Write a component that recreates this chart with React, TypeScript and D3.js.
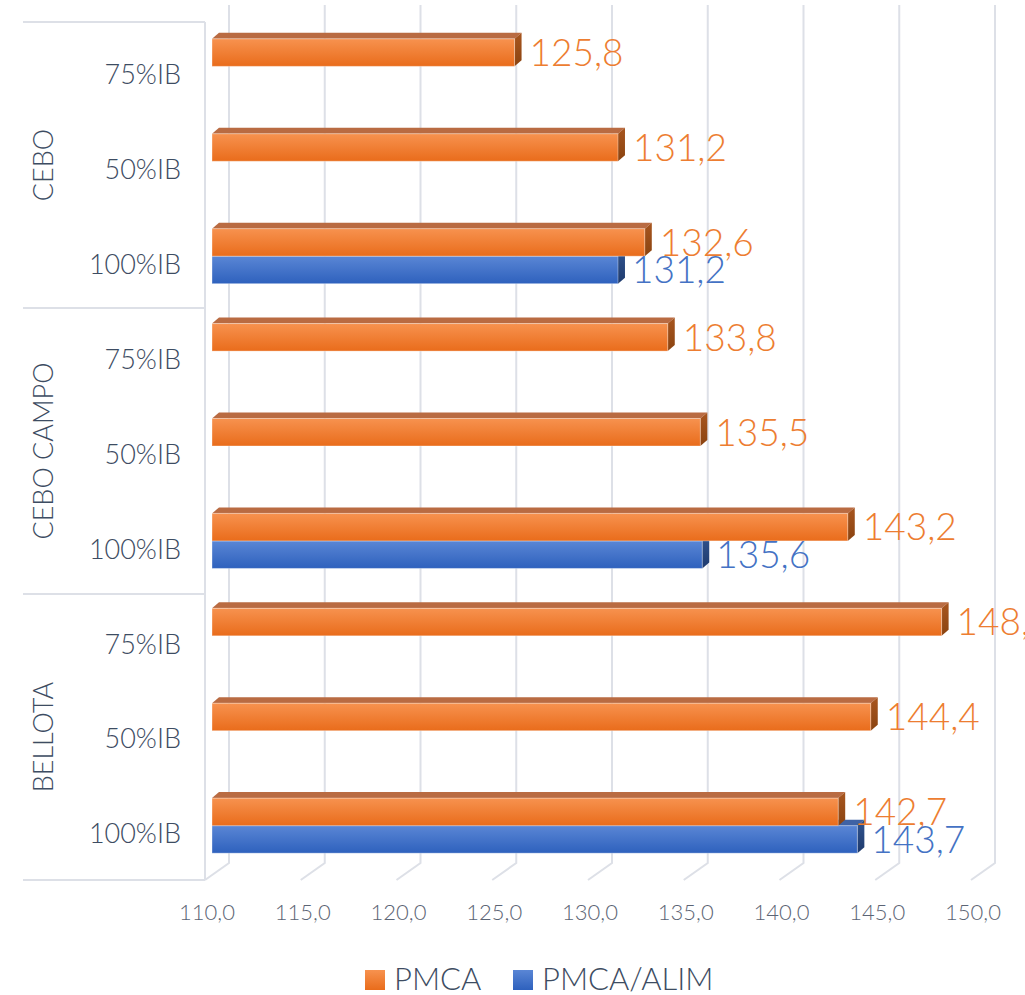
import React from "react";
import * as d3 from "d3";

const groups = ["CEBO", "CEBO CAMPO", "BELLOTA"];
const levels = ["75%IB", "50%IB", "100%IB"];
const pmca = [125.8, 131.2, 132.6, 133.8, 135.5, 143.2, 148.1, 144.4, 142.7];
const pmcaAlim = [null, null, 131.2, null, null, 135.6, null, null, 143.7];
const xTicks = [110, 115, 120, 125, 130, 135, 140, 145, 150];
const seriesNames = ["PMCA", "PMCA/ALIM"];

const FONT = "Lato, 'Open Sans', sans-serif";

const App = () => {
	const width = 1025;
	const height = 995;
	const floorY = 880;
	const topY = 22;
	const x0 = 205; // front edge of floor
	const depth = { dx: 24, dy: -17 };
	const barDepth = { dx: 7, dy: -5 };
	const sideDepth = { dx: 7, dy: -6 };

	const rows = [];
	groups.forEach((g, gi) => levels.forEach((l, li) => rows.push({ key: `${g}-${l}`, group: g, level: l, i: gi * 3 + li })));

	const xScale = d3.scaleLinear().domain([110, 150]).range([0, 766]);
	const yScale = d3.scaleBand()
		.domain(rows.map(r => r.key))
		.range([topY, floorY])
		.paddingInner(0.42)
		.paddingOuter(0.23);
	const sub = d3.scaleBand().domain(seriesNames).range([0, yScale.bandwidth()]);
	const groupScale = d3.scaleBand().domain(groups).range([topY, floorY]);

	const gridColor = "#DDE0E7";
	const textColor = "#3D4C62";
	const fmt = v => d3.format(".1f")(v).replace(".", ",");

	const bar = (v, key, s, colors) => {
		const bx = x0 + barDepth.dx;
		const by = yScale(key) + barDepth.dy + sub(s);
		const h = sub.bandwidth();
		const w = xScale(v);
		const xe = bx + w;
		const top = `M${bx},${by} L${bx + sideDepth.dx},${by + sideDepth.dy} L${xe + sideDepth.dx},${by + sideDepth.dy} L${xe},${by} Z`;
		const side = `M${xe},${by} L${xe + sideDepth.dx},${by + sideDepth.dy} L${xe + sideDepth.dx},${by + h + sideDepth.dy} L${xe},${by + h} Z`;
		return (
			<g key={key + s}>
				<path d={top} fill={colors.top} />
				<path d={side} fill={`url(#${colors.side})`} />
				<rect x={bx} y={by} width={w} height={h} fill={`url(#${colors.front})`} stroke="rgba(255,255,255,0.35)" strokeWidth={1} />
			</g>
		);
	};

	const orange = { top: "#B96B42", side: "gOs", front: "gOf" };
	const blue = { top: "#3F62A4", side: "gBs", front: "gBf" };

	return (
		<svg width={width} height={height} style={{ position: "absolute", left: 0, top: 0, background: "#fff" }} fontFamily={FONT}>
			<defs>
				<linearGradient id="gOf" x1="0" y1="0" x2="0" y2="1">
					<stop offset="0" stopColor="#F7924F" />
					<stop offset="1" stopColor="#E96C1B" />
				</linearGradient>
				<linearGradient id="gOs" x1="0" y1="0" x2="0" y2="1">
					<stop offset="0" stopColor="#A8561F" />
					<stop offset="1" stopColor="#8A4310" />
				</linearGradient>
				<linearGradient id="gBf" x1="0" y1="0" x2="0" y2="1">
					<stop offset="0" stopColor="#5A86D5" />
					<stop offset="1" stopColor="#2E61BD" />
				</linearGradient>
				<linearGradient id="gBs" x1="0" y1="0" x2="0" y2="1">
					<stop offset="0" stopColor="#31548F" />
					<stop offset="1" stopColor="#1E3A6D" />
				</linearGradient>
			</defs>

			{/* gridlines: back wall + floor */}
			{xTicks.map(t => {
				const xf = x0 + xScale(t);
				const xb = xf + depth.dx;
				return (
					<path key={t} d={`M${xb},${topY + depth.dy} L${xb},${floorY + depth.dy} L${xf},${floorY}`}
						fill="none" stroke={gridColor} strokeWidth={2} />
				);
			})}

			{/* left wall edge and category separators */}
			<line x1={x0} x2={x0} y1={topY} y2={floorY} stroke={gridColor} strokeWidth={2} />
			{[topY, ...groups.map(g => groupScale(g) + groupScale.bandwidth())].map((y, i) => (
				<line key={i} x1={23} x2={x0} y1={y} y2={y} stroke={gridColor} strokeWidth={2} />
			))}

			{/* bars */}
			{rows.map(r => (
				<g key={r.key}>
					{pmcaAlim[r.i] != null && bar(pmcaAlim[r.i], r.key, "PMCA/ALIM", blue)}
					{bar(pmca[r.i], r.key, "PMCA", orange)}
				</g>
			))}

			{/* value labels */}
			{rows.map(r => {
				const by = yScale(r.key) + barDepth.dy;
				const out = [
					<text key="o" x={x0 + barDepth.dx + xScale(pmca[r.i]) + 15} y={by + sub("PMCA") + sub.bandwidth() / 2}
						dy="0.36em" fontSize={37} fill="#ED7D31" fontWeight={300}>{fmt(pmca[r.i])}</text>
				];
				if (pmcaAlim[r.i] != null) {
					out.push(
						<text key="b" x={x0 + barDepth.dx + xScale(pmcaAlim[r.i]) + 14} y={by + sub("PMCA/ALIM") + sub.bandwidth() / 2}
							dy="0.36em" fontSize={37} fill="#4472C4" fontWeight={300}>{fmt(pmcaAlim[r.i])}</text>
					);
				}
				return <g key={r.key + "l"}>{out}</g>;
			})}

			{/* row labels */}
			{rows.map(r => (
				<text key={r.key + "t"} x={181} y={yScale(r.key) + yScale.bandwidth() / 2 + 3} dy="0.36em" textAnchor="end"
					fontSize={27} fill={textColor} fontWeight={300}>{r.level}</text>
			))}

			{/* group labels */}
			{groups.map(g => {
				const cy = groupScale(g) + groupScale.bandwidth() / 2;
				return (
					<text key={g} transform={`translate(43,${cy}) rotate(-90)`} textAnchor="middle" dy="0.36em"
						fontSize={27} fill={textColor} fontWeight={300}>{g}</text>
				);
			})}

			{/* x tick labels */}
			{xTicks.map(t => (
				<text key={t} x={x0 + xScale(t) + 2} y={912} dy="0.36em" textAnchor="middle" fontSize={22} fill="#5B6474" fontWeight={300}>
					{fmt(t)}
				</text>
			))}

			{/* legend */}
			<rect x={365} y={970} width={20} height={20} fill="url(#gOf)" />
			<text x={394} y={979} dy="0.36em" fontSize={31} fill={textColor} fontWeight={300}>PMCA</text>
			<rect x={513} y={970} width={20} height={20} fill="url(#gBf)" />
			<text x={542} y={979} dy="0.36em" fontSize={31} fill={textColor} fontWeight={300}>PMCA/ALIM</text>
		</svg>
	);
};

export default App;
